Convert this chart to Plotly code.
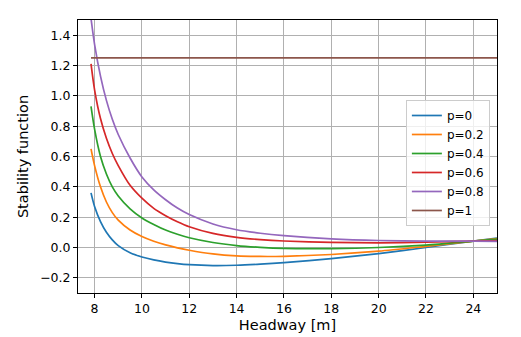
import plotly.graph_objects as go

headway = [7.85, 8.0, 8.25, 8.5, 8.75, 9.0, 9.5, 10, 10.5, 11, 11.5, 12, 13, 14, 15, 16, 18, 20, 22, 24, 25]

p0 = [0.36, 0.27, 0.17, 0.10, 0.05, 0.012, -0.035, -0.063, -0.082, -0.096, -0.106, -0.113, -0.119,
      -0.117, -0.11, -0.10, -0.073, -0.04, 0.0, 0.042, 0.062]
p02 = [0.65, 0.54, 0.40, 0.30, 0.23, 0.18, 0.115, 0.072, 0.041, 0.017, -0.002, -0.018, -0.042,
       -0.055, -0.059, -0.058, -0.046, -0.024, 0.008, 0.042, 0.058]
p04 = [0.93, 0.78, 0.60, 0.485, 0.40, 0.34, 0.255, 0.195, 0.152, 0.115, 0.087, 0.064, 0.033,
       0.013, 0.001, -0.006, -0.007, 0.0, 0.016, 0.042, 0.055]
p06 = [1.21, 1.04, 0.85, 0.72, 0.62, 0.54, 0.41, 0.325, 0.258, 0.21, 0.17, 0.137, 0.093,
       0.067, 0.052, 0.043, 0.034, 0.031, 0.035, 0.042, 0.045]
p08 = [1.51, 1.34, 1.13, 0.97, 0.845, 0.745, 0.59, 0.465, 0.38, 0.315, 0.26, 0.217, 0.155,
       0.117, 0.094, 0.078, 0.057, 0.046, 0.042, 0.042, 0.041]
p1_x = [7.85, 25]
p1 = [1.25, 1.25]

series = [
    ('p=0', headway, p0, '#1f77b4'),
    ('p=0.2', headway, p02, '#ff7f0e'),
    ('p=0.4', headway, p04, '#2ca02c'),
    ('p=0.6', headway, p06, '#d62728'),
    ('p=0.8', headway, p08, '#9467bd'),
    ('p=1', p1_x, p1, '#8c564b'),
]

fig = go.Figure()
for name, x, y, color in series:
    fig.add_trace(go.Scatter(
        x=x, y=y, mode='lines', name=name,
        line=dict(color=color, width=1.7, shape='spline', smoothing=0.8),
    ))

axis_style = dict(
    showgrid=True, gridcolor='#b0b0b0', gridwidth=1,
    showline=True, linecolor='black', linewidth=1, mirror=True,
    ticks='outside', ticklen=4, tickcolor='black',
    tickfont=dict(size=12.5, color='black'),
    zeroline=False, automargin=False,
)

# page body adds 8px around the figure, so the canvas is 8px smaller
fig.update_layout(
    width=513, height=329,
    margin=dict(l=70, r=24, t=12, b=44),
    paper_bgcolor='white', plot_bgcolor='white',
    font=dict(family='DejaVu Sans', color='black'),
    xaxis=dict(axis_style, range=[7.3, 25], tickvals=[8, 10, 12, 14, 16, 18, 20, 22, 24],
               title=dict(text='Headway [m]', font=dict(size=14.5), standoff=4)),
    yaxis=dict(axis_style, range=[-0.3, 1.5], tickvals=[-0.2, 0, 0.2, 0.4, 0.6, 0.8, 1.0, 1.2, 1.4],
               tickformat='.1f',
               title=dict(text='Stability function', font=dict(size=14.5), standoff=8)),
    legend=dict(x=0.983, y=0.707, xanchor='right', yanchor='top',
                bgcolor='rgba(255,255,255,0.8)', bordercolor='#cccccc', borderwidth=1,
                font=dict(size=12)),
)

fig.write_html("out.html")
